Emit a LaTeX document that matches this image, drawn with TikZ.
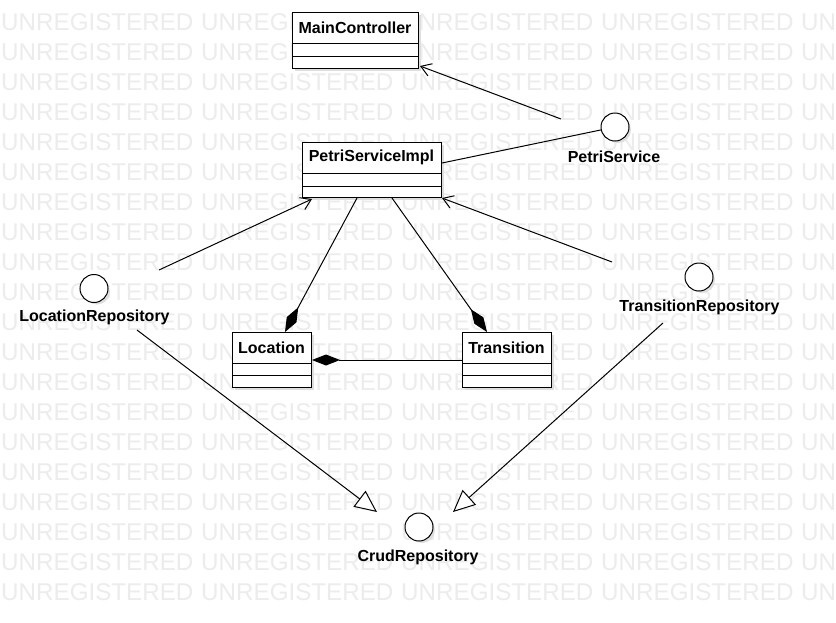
\documentclass[tikz,border=0pt]{standalone}
\usepackage{fontspec}
\setmainfont{Liberation Sans}
\usetikzlibrary{arrows.meta,calc}
\definecolor{wm}{RGB}{236,236,236}
\definecolor{shadowc}{RGB}{222,222,222}
\begin{document}
\begin{tikzpicture}[x=1pt,y=-1pt,
  wmtext/.style={anchor=base west, inner sep=0pt, text=wm, font=\fontsize{24.2}{24}\selectfont},
  classbox/.style={draw=black, fill=white, line width=1pt, inner sep=0pt, anchor=north west},
  divider/.style={draw=black, line width=1pt},
  shadowbox/.style={fill=shadowc},
  ctitle/.style={inner sep=0pt, font=\fontsize{16}{16}\selectfont\bfseries},
  iface/.style={circle, draw=black, fill=white, line width=1pt, minimum size=28pt, inner sep=0pt},
  ishadow/.style={circle, fill=shadowc, minimum size=26pt, inner sep=0pt},
  ilabel/.style={inner sep=0pt, font=\fontsize{16}{16}\selectfont\bfseries},
  conn/.style={draw=black, line width=1pt},
  usage/.style={conn, -{Straight Barb[length=10pt, width=13pt, line width=1pt]}},
  compo/.style={conn, -{Diamond[length=28pt, width=11pt, fill=black]}},
  realize/.style={conn, -{Triangle[open, length=22pt, width=20pt, fill=white, line width=1pt]}}
]
\useasboundingbox (0,0) rectangle (836,622);
\fill[white] (0,0) rectangle (836,622);
% watermark
\foreach \k in {0,...,19}{
  \foreach \j in {0,...,4}{
    \node[wmtext] (wm\k-\j) at ({1+200*\j},{30+30*\k}) {UNREGISTERED};
  }
}
% ---------- classes ----------
% MainController
\fill[shadowbox] (295,15) rectangle (421,71);
\node[classbox, minimum width=126pt, minimum height=56pt] (main) at (292,12) {};
\draw[divider] (292,43) -- (418,43);
\draw[divider] (292,56) -- (418,56);
\node[ctitle] (maint) at (355,27.5) {MainController};
% PetriServiceImpl
\fill[shadowbox] (305,145) rectangle (444,200);
\node[classbox, minimum width=139pt, minimum height=55pt] (psi) at (302,142) {};
\draw[divider] (302,173) -- (441,173);
\draw[divider] (302,186) -- (441,186);
\node[ctitle] (psit) at (371.5,157.5) {PetriServiceImpl};
% Location
\fill[shadowbox] (235,335) rectangle (314,390);
\node[classbox, minimum width=79pt, minimum height=55pt] (loc) at (232,332) {};
\draw[divider] (232,363) -- (311,363);
\draw[divider] (232,375) -- (311,375);
\node[ctitle] (loct) at (271.5,347.5) {Location};
% Transition
\fill[shadowbox] (465,335) rectangle (554,390);
\node[classbox, minimum width=89pt, minimum height=55pt] (tra) at (462,332) {};
\draw[divider] (462,363) -- (551,363);
\draw[divider] (462,375) -- (551,375);
\node[ctitle] (trat) at (506.5,347.5) {Transition};
% ---------- interfaces ----------
\node[ishadow] (pscs) at (618,130) {};
\node[iface] (psc) at (615,127) {};
\node[ilabel] (psl) at (614,157) {PetriService};
\node[ishadow] (lrcs) at (97,291.5) {};
\node[iface] (lrc) at (94,288.5) {};
\node[ilabel] (lrl) at (94.5,317) {LocationRepository};
\node[ishadow] (trcs) at (702,280) {};
\node[iface] (trc) at (699,277) {};
\node[ilabel] (trl) at (699.5,307) {TransitionRepository};
\node[ishadow] (crcs) at (422,530) {};
\node[iface] (crc) at (419,527) {};
\node[ilabel] (crl) at (418,557) {CrudRepository};
% ---------- connector free ends ----------
\coordinate (psUse) at (561,119);
\coordinate (lrUse) at (159,270);
\coordinate (trUse) at (612,262);
\coordinate (lrGen) at (137,330);
\coordinate (trGen) at (663,323);
\coordinate (crIn1) at (377,512);
\coordinate (crIn2) at (453,512);
% ---------- connectors ----------
\draw[usage] (psUse) -- ($(main.south east)+(1,-3)$);
\draw[conn] ($(psi.north east)+(0,21)$) -- (psc);
\draw[usage] (lrUse) -- ($(psi.south west)+(10,1)$);
\draw[usage] (trUse) -- ($(psi.south east)+(0,0)$);
\draw[compo] ($(psi.south west)+(55,0)$) -- ($(loc.north west)+(53,0)$);
\draw[compo] ($(psi.south west)+(90,0)$) -- ($(tra.north west)+(25,0)$);
\draw[compo] (tra.west) -- (loc.east);
\draw[realize] (lrGen) -- (crIn1);
\draw[realize] (trGen) -- (crIn2);
\end{tikzpicture}
\end{document}
